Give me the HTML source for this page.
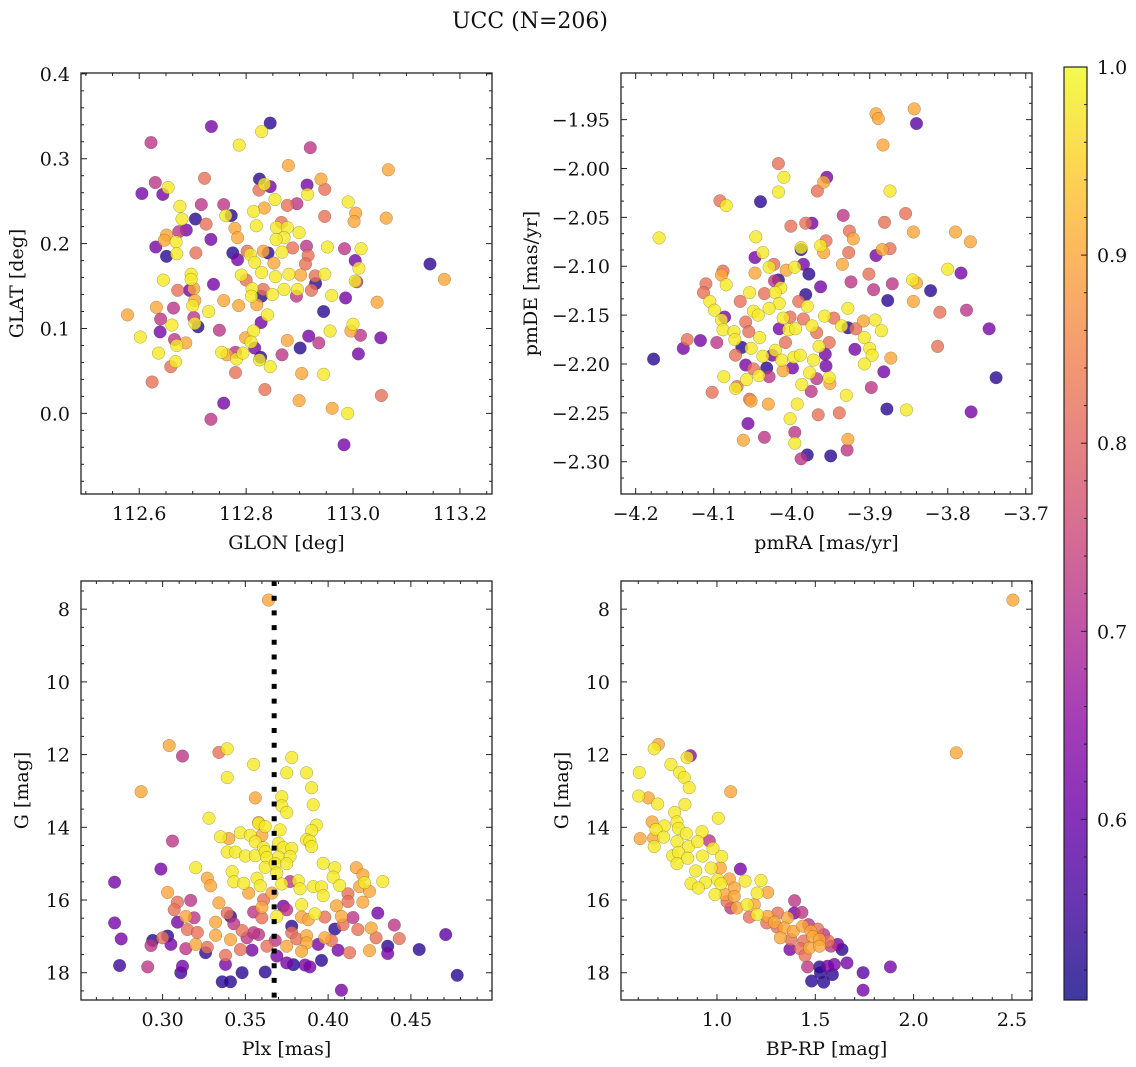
<!DOCTYPE html>
<html><head><meta charset="utf-8">
<style>
html,body{margin:0;padding:0;background:#fff;}
svg{display:block;}
text{font-family:"DejaVu Serif","Liberation Serif",serif;fill:#111;}
</style></head>
<body>
<svg id="fig" width="1136" height="1067" viewBox="0 0 1136 1067" xmlns="http://www.w3.org/2000/svg">
<text x="530" y="28" text-anchor="middle" font-size="22">UCC (N=206)</text>
</svg>
<script>
// ---------- Panel 1: GLON / GLAT ----------
const glon = [112.845,112.829,112.735,112.622,112.787,112.920,112.879,113.066,112.722,112.825,112.834,112.845,112.824,112.630,112.605,112.644,112.654,112.914,112.940,112.947,112.915,112.854,112.991,112.676,112.716,112.758,112.772,112.762,112.814,112.834,112.877,112.895,112.947,113.005,113.002,113.062,112.705,112.680,112.725,112.779,112.784,112.819,112.866,112.857,112.877,112.899,112.871,112.856,112.674,112.688,112.651,112.647,112.669,112.734,112.631,112.651,112.670,112.706,112.775,112.784,112.802,112.808,112.832,112.841,112.867,112.887,112.913,112.916,112.952,112.984,113.015,112.816,112.852,112.829,112.791,112.800,112.855,112.880,112.902,112.929,112.947,112.911,113.004,113.011,113.144,113.171,112.645,112.697,112.697,112.739,112.672,112.694,112.702,112.811,112.832,112.871,112.896,112.930,112.922,113.007,113.004,112.829,112.810,112.849,112.894,112.960,112.986,112.632,112.664,112.704,112.700,112.758,112.786,112.820,113.045,112.578,112.640,112.702,112.710,112.704,112.730,112.661,112.840,112.828,112.945,112.602,112.639,112.666,112.670,112.687,112.750,112.814,112.799,112.809,112.917,112.936,112.957,112.996,113.000,113.014,113.052,112.636,112.754,112.764,112.780,112.782,112.794,112.816,112.827,112.825,112.867,112.877,112.901,113.010,112.659,112.668,112.845,112.780,112.904,112.945,112.624,112.835,112.758,112.899,112.961,112.990,113.053,112.734,112.983];
const glat = [0.342,0.332,0.338,0.319,0.316,0.313,0.292,0.287,0.277,0.276,0.270,0.267,0.263,0.272,0.259,0.258,0.266,0.269,0.276,0.264,0.258,0.252,0.249,0.244,0.246,0.246,0.233,0.233,0.238,0.242,0.245,0.247,0.232,0.236,0.226,0.230,0.229,0.229,0.223,0.218,0.207,0.221,0.225,0.219,0.219,0.213,0.207,0.205,0.214,0.216,0.210,0.204,0.202,0.205,0.196,0.185,0.188,0.189,0.189,0.181,0.191,0.187,0.191,0.189,0.190,0.195,0.197,0.186,0.196,0.194,0.194,0.178,0.177,0.166,0.163,0.157,0.161,0.164,0.163,0.162,0.164,0.176,0.180,0.171,0.176,0.158,0.157,0.164,0.158,0.152,0.145,0.145,0.147,0.147,0.146,0.146,0.146,0.153,0.145,0.155,0.156,0.138,0.138,0.140,0.138,0.139,0.136,0.125,0.124,0.133,0.127,0.133,0.127,0.128,0.131,0.116,0.111,0.113,0.102,0.106,0.120,0.104,0.116,0.107,0.120,0.090,0.096,0.087,0.080,0.083,0.098,0.097,0.089,0.084,0.091,0.083,0.097,0.097,0.105,0.092,0.089,0.071,0.072,0.069,0.072,0.064,0.071,0.077,0.066,0.063,0.069,0.086,0.077,0.070,0.055,0.061,0.055,0.048,0.047,0.046,0.037,0.028,0.012,0.015,0.006,0.000,0.021,-0.007,-0.037];
const probTL = [0.53,0.98,0.62,0.72,0.98,0.72,0.90,0.90,0.82,0.53,0.98,0.62,0.82,0.72,0.62,0.62,0.98,0.62,0.90,0.82,0.98,0.98,0.98,0.98,0.72,0.72,0.53,0.98,0.98,0.90,0.82,0.72,0.82,0.90,0.90,0.90,0.53,0.98,0.82,0.90,0.90,0.98,0.82,0.98,0.98,0.98,0.98,0.98,0.72,0.62,0.90,0.90,0.98,0.62,0.62,0.53,0.98,0.82,0.53,0.62,0.82,0.98,0.90,0.53,0.98,0.82,0.72,0.82,0.98,0.72,0.98,0.98,0.90,0.98,0.98,0.82,0.98,0.98,0.90,0.82,0.98,0.82,0.62,0.98,0.53,0.90,0.98,0.98,0.98,0.62,0.82,0.62,0.90,0.98,0.82,0.98,0.98,0.53,0.82,0.72,0.98,0.53,0.98,0.98,0.72,0.98,0.62,0.90,0.72,0.90,0.98,0.90,0.90,0.90,0.90,0.90,0.72,0.72,0.53,0.98,0.98,0.98,0.98,0.62,0.53,0.98,0.62,0.72,0.98,0.90,0.72,0.98,0.90,0.98,0.62,0.72,0.98,0.90,0.98,0.72,0.62,0.98,0.98,0.90,0.72,0.98,0.98,0.62,0.53,0.98,0.72,0.90,0.53,0.62,0.82,0.98,0.98,0.82,0.90,0.98,0.82,0.82,0.62,0.90,0.90,0.98,0.82,0.72,0.62];

// ---------- Panel 2: pmRA / pmDE ----------
const pmra = [-3.892,-3.889,-3.843,-3.840,-3.883,-4.017,-4.010,-3.955,-3.959,-3.967,-4.017,-3.874,-4.092,-4.084,-4.040,-4.170,-3.934,-3.854,-3.881,-3.844,-3.790,-3.771,-4.001,-3.982,-3.974,-4.046,-3.956,-3.963,-3.959,-3.926,-3.921,-3.988,-3.988,-3.927,-3.892,-3.884,-3.874,-3.935,-4.047,-4.037,-4.029,-4.023,-3.996,-3.985,-3.978,-4.047,-4.007,-4.088,-4.090,-4.084,-4.110,-4.113,-3.963,-3.924,-3.901,-3.895,-3.871,-3.800,-3.783,-3.845,-3.840,-3.822,-4.022,-4.017,-4.014,-4.054,-4.035,-4.021,-3.982,-4.105,-4.099,-4.066,-4.049,-4.016,-4.029,-3.991,-3.980,-3.928,-3.877,-3.844,-3.810,-3.776,-4.086,-4.090,-4.059,-4.043,-4.011,-4.002,-3.985,-3.958,-3.946,-3.936,-3.928,-3.918,-3.908,-3.893,-3.885,-3.747,-4.088,-4.074,-4.055,-4.016,-4.004,-3.995,-3.974,-3.968,-3.907,-4.134,-4.117,-4.096,-4.073,-4.041,-4.008,-3.952,-3.965,-3.919,-3.900,-3.897,-3.813,-4.139,-4.177,-4.072,-4.064,-4.052,-4.037,-4.025,-4.021,-4.013,-3.997,-3.989,-3.972,-3.957,-3.873,-3.907,-3.882,-4.059,-4.032,-4.049,-4.011,-3.999,-3.977,-3.956,-4.087,-4.058,-4.042,-4.029,-3.968,-3.952,-3.951,-4.072,-4.070,-3.987,-3.975,-3.898,-3.930,-4.102,-4.054,-4.052,-4.030,-3.993,-3.878,-3.853,-3.770,-3.738,-3.966,-3.939,-4.002,-4.056,-4.062,-4.035,-3.996,-3.996,-3.928,-3.929,-3.980,-3.988,-3.950];
const pmde = [-1.944,-1.949,-1.939,-1.954,-1.976,-1.995,-2.009,-2.009,-2.014,-2.023,-2.024,-2.023,-2.033,-2.038,-2.034,-2.071,-2.048,-2.046,-2.055,-2.065,-2.065,-2.075,-2.059,-2.056,-2.056,-2.070,-2.074,-2.079,-2.086,-2.064,-2.072,-2.083,-2.081,-2.086,-2.089,-2.083,-2.082,-2.098,-2.091,-2.086,-2.101,-2.098,-2.101,-2.098,-2.108,-2.107,-2.104,-2.105,-2.109,-2.119,-2.118,-2.127,-2.121,-2.116,-2.108,-2.124,-2.118,-2.103,-2.107,-2.114,-2.117,-2.125,-2.115,-2.114,-2.122,-2.127,-2.128,-2.127,-2.129,-2.136,-2.145,-2.136,-2.146,-2.138,-2.143,-2.136,-2.141,-2.143,-2.135,-2.136,-2.147,-2.145,-2.152,-2.155,-2.157,-2.150,-2.153,-2.152,-2.154,-2.151,-2.153,-2.161,-2.163,-2.164,-2.156,-2.155,-2.166,-2.164,-2.165,-2.167,-2.167,-2.164,-2.165,-2.164,-2.161,-2.168,-2.173,-2.175,-2.176,-2.178,-2.175,-2.173,-2.178,-2.178,-2.182,-2.185,-2.184,-2.191,-2.182,-2.184,-2.195,-2.191,-2.183,-2.184,-2.192,-2.191,-2.186,-2.196,-2.193,-2.191,-2.196,-2.190,-2.194,-2.200,-2.208,-2.201,-2.204,-2.205,-2.207,-2.204,-2.209,-2.202,-2.213,-2.216,-2.212,-2.213,-2.215,-2.214,-2.220,-2.225,-2.223,-2.221,-2.228,-2.224,-2.232,-2.229,-2.236,-2.238,-2.241,-2.241,-2.246,-2.247,-2.249,-2.214,-2.252,-2.250,-2.256,-2.261,-2.278,-2.275,-2.270,-2.281,-2.277,-2.288,-2.293,-2.297,-2.294];
const probTR = [0.90,0.90,0.90,0.58,0.90,0.82,0.98,0.62,0.90,0.82,0.98,0.98,0.82,0.98,0.53,0.98,0.72,0.82,0.82,0.90,0.90,0.90,0.82,0.82,0.62,0.98,0.82,0.98,0.90,0.82,0.90,0.53,0.98,0.82,0.62,0.90,0.82,0.90,0.62,0.98,0.98,0.82,0.98,0.62,0.53,0.90,0.90,0.82,0.90,0.98,0.82,0.82,0.62,0.72,0.82,0.72,0.72,0.98,0.62,0.98,0.90,0.53,0.72,0.53,0.98,0.98,0.82,0.98,0.53,0.98,0.98,0.82,0.98,0.98,0.98,0.82,0.98,0.98,0.53,0.90,0.82,0.72,0.62,0.98,0.82,0.98,0.98,0.82,0.82,0.98,0.82,0.98,0.53,0.82,0.90,0.98,0.98,0.62,0.98,0.98,0.82,0.62,0.98,0.98,0.98,0.82,0.98,0.82,0.62,0.72,0.98,0.98,0.82,0.82,0.98,0.62,0.98,0.98,0.82,0.62,0.53,0.82,0.53,0.98,0.98,0.62,0.98,0.98,0.98,0.98,0.98,0.62,0.90,0.98,0.62,0.62,0.53,0.82,0.90,0.62,0.98,0.62,0.98,0.98,0.98,0.72,0.72,0.98,0.90,0.98,0.82,0.98,0.72,0.72,0.98,0.82,0.82,0.90,0.90,0.98,0.53,0.98,0.62,0.53,0.82,0.82,0.98,0.62,0.90,0.72,0.72,0.98,0.90,0.72,0.53,0.72,0.53];

// ---------- Panel 3: Plx / G ----------
const plx = [0.364,0.304,0.312,0.334,0.339,0.355,0.339,0.378,0.375,0.387,0.287,0.356,0.372,0.390,0.372,0.375,0.391,0.328,0.358,0.358,0.362,0.371,0.393,0.390,0.306,0.335,0.340,0.347,0.353,0.360,0.356,0.387,0.389,0.390,0.339,0.344,0.350,0.356,0.361,0.362,0.370,0.373,0.378,0.363,0.370,0.377,0.299,0.320,0.362,0.368,0.375,0.397,0.404,0.417,0.271,0.327,0.329,0.342,0.343,0.349,0.357,0.359,0.369,0.372,0.377,0.382,0.383,0.391,0.396,0.403,0.407,0.397,0.421,0.419,0.422,0.425,0.433,0.303,0.352,0.366,0.412,0.309,0.317,0.334,0.361,0.384,0.392,0.405,0.412,0.421,0.307,0.314,0.319,0.309,0.332,0.339,0.341,0.355,0.360,0.360,0.369,0.373,0.375,0.384,0.388,0.398,0.408,0.415,0.430,0.271,0.315,0.321,0.332,0.343,0.348,0.358,0.378,0.378,0.387,0.404,0.409,0.418,0.426,0.429,0.440,0.275,0.294,0.300,0.303,0.293,0.305,0.314,0.320,0.327,0.341,0.351,0.355,0.363,0.368,0.375,0.381,0.387,0.394,0.398,0.402,0.406,0.413,0.425,0.443,0.436,0.436,0.455,0.471,0.326,0.338,0.347,0.354,0.369,0.384,0.375,0.379,0.386,0.389,0.396,0.274,0.291,0.312,0.311,0.338,0.348,0.362,0.336,0.341,0.408,0.478];
const gmagL = [7.75,11.75,12.04,11.94,11.84,12.27,12.63,12.08,12.50,12.50,13.02,13.19,13.16,12.91,13.41,13.59,13.38,13.75,13.87,13.89,13.98,14.07,13.94,14.09,14.38,14.26,14.31,14.15,14.22,14.22,14.40,14.34,14.38,14.53,14.68,14.68,14.79,14.78,14.56,14.67,14.44,14.56,14.58,14.83,14.82,14.80,15.15,15.11,15.10,15.00,15.00,14.99,15.11,15.11,15.51,15.40,15.61,15.22,15.50,15.54,15.40,15.61,15.26,15.56,15.49,15.47,15.69,15.63,15.64,15.37,15.60,15.88,15.31,15.63,15.52,15.76,15.49,15.79,15.81,15.81,15.83,16.06,16.01,16.08,15.99,16.13,16.38,16.16,16.04,16.06,16.27,16.45,16.49,16.61,16.61,16.36,16.45,16.33,16.20,16.49,16.45,16.17,16.27,16.47,16.54,16.47,16.45,16.48,16.36,16.63,16.81,16.89,16.97,16.65,16.84,16.95,16.72,16.90,16.98,16.80,16.68,16.81,16.77,17.04,16.69,17.07,17.11,17.04,16.99,17.25,17.22,17.34,17.22,17.30,17.09,17.04,16.90,17.27,17.11,17.27,17.07,17.18,17.22,17.04,17.11,17.38,17.45,17.39,17.06,17.27,17.47,17.36,16.95,17.45,17.52,17.36,17.38,17.54,17.41,17.73,17.78,17.79,17.84,17.66,17.80,17.84,17.82,18.00,17.77,18.00,17.98,18.25,18.25,18.48,18.07];
const probBL = [0.90,0.90,0.72,0.82,0.98,0.98,0.98,0.98,0.98,0.98,0.90,0.90,0.98,0.98,0.98,0.98,0.98,0.98,0.90,0.98,0.98,0.98,0.98,0.98,0.72,0.98,0.90,0.98,0.98,0.90,0.98,0.98,0.98,0.98,0.98,0.98,0.98,0.98,0.98,0.98,0.98,0.98,0.98,0.98,0.98,0.98,0.62,0.98,0.98,0.98,0.98,0.98,0.98,0.90,0.62,0.90,0.90,0.98,0.98,0.98,0.98,0.98,0.98,0.98,0.72,0.98,0.98,0.98,0.98,0.98,0.98,0.98,0.90,0.90,0.98,0.90,0.98,0.90,0.90,0.90,0.82,0.82,0.72,0.90,0.82,0.98,0.98,0.90,0.82,0.90,0.82,0.90,0.72,0.62,0.90,0.82,0.53,0.72,0.90,0.82,0.98,0.62,0.72,0.90,0.90,0.82,0.90,0.72,0.62,0.62,0.82,0.82,0.90,0.72,0.82,0.72,0.53,0.82,0.90,0.53,0.82,0.82,0.90,0.82,0.72,0.62,0.53,0.82,0.53,0.72,0.62,0.72,0.90,0.82,0.90,0.72,0.72,0.82,0.72,0.90,0.82,0.90,0.62,0.90,0.82,0.62,0.82,0.90,0.82,0.53,0.62,0.53,0.58,0.53,0.82,0.82,0.62,0.62,0.90,0.62,0.53,0.62,0.62,0.53,0.55,0.72,0.62,0.55,0.62,0.53,0.53,0.53,0.53,0.62,0.53];
const plxRef = [0.3674];

// ---------- Panel 4: BP-RP / G ----------
const bprp = [2.505,2.217,0.702,0.681,0.865,0.848,0.766,0.605,0.810,0.834,0.859,1.070,0.602,0.651,0.698,0.837,0.785,1.007,0.670,0.732,0.690,0.797,0.804,0.844,0.924,0.609,0.678,0.729,0.797,0.856,0.902,0.961,0.980,0.681,0.775,0.804,0.851,0.926,1.024,0.797,0.892,0.970,1.017,1.119,0.868,0.941,1.004,1.020,1.063,1.088,1.143,1.224,0.905,0.990,1.041,1.051,1.088,1.204,1.258,1.395,1.071,1.102,1.153,1.190,1.165,1.204,1.258,1.309,1.253,1.292,1.305,1.359,1.393,1.432,1.342,1.388,1.436,1.466,1.478,1.512,1.376,1.322,1.441,1.487,1.521,1.543,1.371,1.424,1.448,1.470,1.522,1.580,1.566,1.614,1.636,1.661,1.461,1.522,1.563,1.597,1.526,1.587,1.481,1.543,1.743,1.743,1.882];
const gmagR = [7.75,11.95,11.72,11.84,12.03,12.08,12.27,12.49,12.49,12.63,12.91,13.02,13.14,13.19,13.36,13.37,13.59,13.75,13.85,13.96,14.06,13.85,14.03,14.17,14.12,14.31,14.30,14.27,14.39,14.53,14.39,14.37,14.58,14.53,14.78,14.69,14.85,14.79,14.80,15.00,15.20,15.12,15.12,15.15,15.55,15.52,15.44,15.55,15.42,15.67,15.48,15.46,15.67,15.85,15.85,16.04,15.90,15.81,15.79,16.02,16.22,16.22,16.13,16.13,16.47,16.40,16.45,16.36,16.63,16.61,16.74,16.49,16.36,16.34,16.77,16.86,16.72,16.68,16.86,16.80,17.09,17.04,17.13,17.01,17.09,16.95,17.36,17.34,17.53,17.32,17.27,17.27,17.13,17.22,17.36,17.73,17.84,17.84,17.82,17.77,18.00,18.05,18.23,18.26,18.00,18.48,17.84];
const probBR = [0.90,0.90,0.90,0.98,0.65,0.98,0.98,0.98,0.98,0.98,0.98,0.90,0.98,0.90,0.98,0.98,0.98,0.98,0.90,0.98,0.98,0.98,0.98,0.98,0.98,0.90,0.90,0.98,0.98,0.98,0.98,0.72,0.98,0.98,0.98,0.98,0.98,0.98,0.98,0.98,0.98,0.98,0.90,0.62,0.98,0.98,0.98,0.98,0.90,0.90,0.98,0.98,0.98,0.98,0.90,0.82,0.90,0.98,0.90,0.72,0.72,0.90,0.98,0.90,0.82,0.98,0.90,0.82,0.82,0.90,0.82,0.90,0.62,0.72,0.90,0.90,0.90,0.72,0.90,0.82,0.82,0.90,0.82,0.90,0.90,0.72,0.62,0.82,0.82,0.90,0.90,0.72,0.82,0.62,0.53,0.62,0.72,0.53,0.62,0.62,0.53,0.53,0.53,0.53,0.58,0.62,0.62];

// ---------- tick / colorbar data ----------
const glonTicks = [112.6,112.8,113.0,113.2];
const glatTicks = [0.0,0.1,0.2,0.3,0.4];
const pmraTicks = [-4.2,-4.1,-4.0,-3.9,-3.8,-3.7];
const pmdeTicks = [-2.30,-2.25,-2.20,-2.15,-2.10,-2.05,-2.00,-1.95];
const plxTicks = [0.30,0.35,0.40,0.45];
const bprpTicks = [1.0,1.5,2.0,2.5];
const gTicks = [8,10,12,14,16,18];
const cbarTicks = [0.6,0.7,0.8,0.9,1.0];
const VMIN = 0.504, VMAX = 1.0;

const NS = "http://www.w3.org/2000/svg";
const svg = document.getElementById('fig');
const plasmaStops = [[13,8,135],[65,4,157],[106,0,168],[143,13,164],[177,42,144],[204,71,120],[225,100,98],[242,132,75],[252,166,54],[252,206,37],[240,249,33]];
function cmap(p){
  let t=(p-VMIN)/(VMAX-VMIN); t=Math.max(0,Math.min(1,t));
  const f=t*10, i=Math.min(9,Math.floor(f)), r=f-i;
  const a=plasmaStops[i], b=plasmaStops[i+1];
  return 'rgb('+[0,1,2].map(k=>Math.round(a[k]+(b[k]-a[k])*r)).join(',')+')';
}
function el(tag, attrs, parent){
  const e=document.createElementNS(NS,tag);
  for(const k in attrs) e.setAttribute(k,attrs[k]);
  (parent||svg).appendChild(e); return e;
}
function fmt(v,d){ return v.toFixed(d).replace('-','\u2212'); }

function panel(c){
  const g=el('g',{});
  
  
  const sx=v=>c.x0+(v-c.xmin)/(c.xmax-c.xmin)*(c.x1-c.x0);
  const sy=c.invert ? (v=>c.y0+(v-c.ymin)/(c.ymax-c.ymin)*(c.y1-c.y0))
                    : (v=>c.y1-(v-c.ymin)/(c.ymax-c.ymin)*(c.y1-c.y0));
  const idx=c.xs.map((_,i)=>i).sort((a,b)=>c.ps[a]-c.ps[b]);
  const pts=el('g',{},g);
  
  
  idx.forEach(i=>{
    const cc=el('circle',{cx:sx(c.xs[i]).toFixed(1),cy:sy(c.ys[i]).toFixed(1),r:6.3,fill:cmap(c.ps[i]),'fill-opacity':0.8,stroke:'rgba(60,60,30,0.45)','stroke-width':0.5},pts);
    
    
  });
  if(c.vline){
    c.vline.forEach(v=>{
      const ln=el('line',{x1:sx(v),x2:sx(v),y1:c.y0,y2:c.y1,stroke:'#000','stroke-width':5,'stroke-dasharray':'5 9.7'},g);
      
      
    });
  }
  const fr=el('rect',{x:c.x0,y:c.y0,width:c.x1-c.x0,height:c.y1-c.y0,fill:'none',stroke:'#222','stroke-width':1.3},g);
  
  
  const tk=el('g',{stroke:'#222','stroke-width':1},g);
  const xstep=c.xt[1]-c.xt[0], ystep=c.yt[1]-c.yt[0];
  const minorX=xstep/c.xdiv, minorY=ystep/c.ydiv;
  for(let v=c.xt[0]-Math.ceil((c.xt[0]-c.xmin)/minorX)*minorX; v<=c.xmax+1e-9; v+=minorX){
    if(v<c.xmin-1e-9) continue;
    const X=sx(v), maj=c.xt.some(t=>Math.abs(t-v)<minorX/4), L=maj?6:3;
    el('line',{x1:X,x2:X,y1:c.y1,y2:c.y1-L},tk); el('line',{x1:X,x2:X,y1:c.y0,y2:c.y0+L},tk);
  }
  const yLo=Math.min(c.ymin,c.ymax), yHi=Math.max(c.ymin,c.ymax);
  for(let v=c.yt[0]-Math.ceil((c.yt[0]-yLo)/minorY)*minorY; v<=yHi+1e-9; v+=minorY){
    if(v<yLo-1e-9) continue;
    const Y=sy(v), maj=c.yt.some(t=>Math.abs(t-v)<minorY/4), L=maj?6:3;
    el('line',{x1:c.x0,x2:c.x0+L,y1:Y,y2:Y},tk); el('line',{x1:c.x1,x2:c.x1-L,y1:Y,y2:Y},tk);
  }
  c.xt.forEach(v=>{
    const t=el('text',{x:sx(v),y:c.y1+26,'text-anchor':'middle','font-size':19},g);
    t.textContent=fmt(v,c.xd);
    
    
  });
  c.yt.forEach(v=>{
    const t=el('text',{x:c.x0-11,y:sy(v)+7,'text-anchor':'end','font-size':19},g);
    t.textContent=fmt(v,c.yd);
    
    
  });
  const xl=el('text',{x:(c.x0+c.x1)/2,y:c.y1+55,'text-anchor':'middle','font-size':19},g);
  xl.textContent=c.xlabel;
  
  
  const yc=(c.y0+c.y1)/2;
  const yl=el('text',{x:c.ylx,y:yc,'text-anchor':'middle','font-size':19,transform:'rotate(-90 '+c.ylx+' '+yc+')'},g);
  yl.textContent=c.ylabel;
  
  
}

panel({name:'glon-glat-panel',xs:glon,ys:glat,ps:probTL,x0:81,x1:492,y0:73,y1:494,xmin:112.491,xmax:113.260,ymin:-0.095,ymax:0.401,
  xt:glonTicks,yt:glatTicks,xdiv:4,ydiv:5,xd:1,yd:1,xlabel:'GLON [deg]',ylabel:'GLAT [deg]',ylx:23});
panel({name:'pm-panel',xs:pmra,ys:pmde,ps:probTR,x0:621,x1:1032,y0:73,y1:494,xmin:-4.2188,xmax:-3.692,ymin:-2.333,ymax:-1.9023,
  xt:pmraTicks,yt:pmdeTicks,xdiv:5,ydiv:3,xd:1,yd:2,xlabel:'pmRA [mas/yr]',ylabel:'pmDE [mas/yr]',ylx:537});
panel({name:'plx-g-panel',xs:plx,ys:gmagL,ps:probBL,x0:81,x1:492,y0:581,y1:1000,xmin:0.2507,xmax:0.499,ymin:7.225,ymax:18.75,invert:true,
  xt:plxTicks,yt:gTicks,xdiv:5,ydiv:4,xd:2,yd:0,xlabel:'Plx [mas]',ylabel:'G [mag]',ylx:28,vline:plxRef});
panel({name:'cmd-panel',xs:bprp,ys:gmagR,ps:probBR,x0:621,x1:1032,y0:581,y1:1000,xmin:0.512,xmax:2.602,ymin:7.225,ymax:18.75,invert:true,
  xt:bprpTicks,yt:gTicks,xdiv:5,ydiv:4,xd:1,yd:0,xlabel:'BP-RP [mag]',ylabel:'G [mag]',ylx:568});

// colorbar
(function(){
  const cx=1064, cw=23, cy0=67, cy1=1000;
  const defs=el('defs',{});
  const lg=el('linearGradient',{id:'plasmaGrad',x1:0,y1:1,x2:0,y2:0},defs);
  plasmaStops.forEach((s,i)=>el('stop',{offset:(i/10),'stop-color':'rgb('+s.join(',')+')'},lg));
  const g=el('g',{});
  
  
  el('rect',{x:cx,y:cy0,width:cw,height:cy1-cy0,fill:'url(#plasmaGrad)','fill-opacity':0.8},g);
  el('rect',{x:cx,y:cy0,width:cw,height:cy1-cy0,fill:'none',stroke:'#222','stroke-width':1.2},g);
  const sy=v=>cy0+(VMAX-v)/(VMAX-VMIN)*(cy1-cy0);
  for(let v=0.52; v<=1.0001; v+=0.02){
    const maj=cbarTicks.some(t=>Math.abs(t-v)<0.005);
    el('line',{x1:cx+cw,x2:cx+cw-(maj?6:3),y1:sy(v),y2:sy(v),stroke:'#222','stroke-width':1},g);
  }
  cbarTicks.forEach(v=>{
    const t=el('text',{x:cx+cw+10,y:sy(v)+7,'font-size':19},g);
    t.textContent=v.toFixed(1);
    
    
  });
})();
</script>
</body></html>
